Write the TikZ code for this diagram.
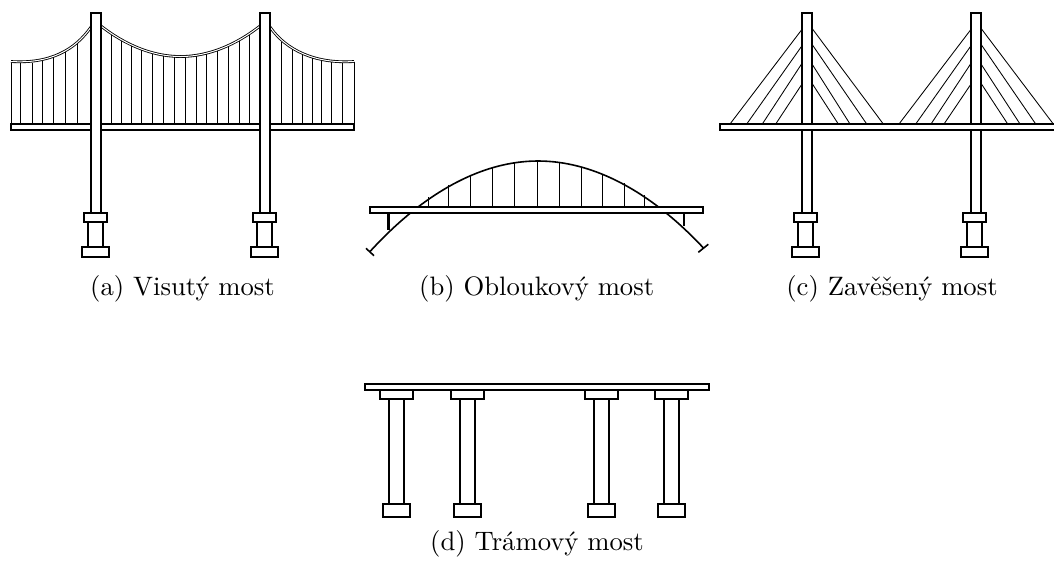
\documentclass[tikz,border=0pt]{standalone}
\usepackage{amsmath}
\usetikzlibrary{arrows.meta, positioning}
\tikzset{
  outline/.style={draw=black, fill=white, line width=0.55pt},
  towerline/.style={draw=black, fill=white, line width=0.4pt},
  hanger/.style={line width=0.32pt},
  stay/.style={line width=0.32pt},
  cable/.style={double=white, double distance=0.38pt, line width=0.32pt},
  caption/.style={anchor=base, font=\normalsize}
}
% pier under a tower: cap, shaft, foot (centre of the shaft)
\newcommand{\pierblock}[1]{
  \draw[outline] (#1-11.5,213) rectangle (#1+11.5,222);
  \draw[outline] (#1-7.5,222) rectangle (#1+7.5,247);
  \draw[outline] (#1-13.5,247) rectangle (#1+13.5,257);
}
% column of the beam bridge
\newcommand{\beamcolumn}[1]{
  \draw[outline] (#1-16.5,390) rectangle (#1+16.5,399);
  \draw[outline] (#1-7.5,399) rectangle (#1+7.5,504);
  \draw[outline] (#1-13.5,504) rectangle (#1+13.5,517);
}
\begin{document}
\begin{tikzpicture}[x=0.375pt,y=-0.375pt]
  \useasboundingbox (0,0) rectangle (1054,560);

  % (a) suspension bridge
  \foreach \hx/\hy in {11/61.5,20.7/62,32.3/62.5,42.7/60.7,53.7/57.3,65/51.7,77/44,
      281.3/42,292.3/49,302.3/53.3,312/57.3,321.7/60,331.7/62,342.3/62.5,354/61.5}
    \draw[hanger] (\hx,\hy) -- (\hx,124);
  \foreach \hx in {111.7,121.7,131.7,141.3,152.7,163.3,174,185.3,196.7,206.3,217.7,228.7,239,249} {
    \pgfmathsetmacro{\hy}{56.5-30.5*((\hx-180.5)/79.5)^2}
    \draw[hanger] (\hx,\hy) -- (\hx,124);
  }
  \draw[cable] (11,61.5) .. controls (50,64) and (75,50) .. (91,27);
  \draw[cable] (101,26) parabola bend (180.5,56.5) (260,26);
  \draw[cable] (270,27) .. controls (286,50) and (315,64) .. (354,61.5);
  \draw[outline] (11,124) rectangle (354,130);
  \draw[towerline] (91,13) rectangle (101,213);
  \draw[towerline] (260,13) rectangle (270,213);
  \pierblock{95.5}
  \pierblock{264.5}
  \node[caption] (capa) at (182.5,295) {(a) Visutý most};

  % (b) arch bridge
  \foreach \hx in {428.3,448.7,470.7,492.7,514.3,537,559.3,581.3,602.7,624,644.3} {
    \pgfmathsetmacro{\hy}{161+0.00301*(\hx-538)^2}
    \draw[hanger] (\hx,\hy) -- (\hx,207);
  }
  \draw[line width=0.6pt] (370,251.5) parabola bend (538,161) (703.5,248);
  \draw[line width=0.6pt] (366,248.3) -- (374,255.7);
  \draw[line width=0.6pt] (698.3,252.3) -- (708.3,244.3);
  \draw[line width=1pt] (388.3,213) -- (388.3,230);
  \draw[line width=1pt] (684,213) -- (684,226);
  \draw[outline] (370,207) rectangle (703,213);
  \node[caption] (capb) at (536.7,295) {(b) Obloukový most};

  % (c) cable-stayed bridge
  \foreach \ty/\dx in {29.3/730,45.7/746.7,63.3/762.3,84/775.7}
    \draw[stay] (802,\ty) -- (\dx,124);
  \foreach \ty/\dx in {28.3/883.3,44.3/866.7,64/850,83.3/838.3}
    \draw[stay] (812,\ty) -- (\dx,124);
  \foreach \ty/\dx in {29.3/899,45.7/915.7,63.3/931,84/944}
    \draw[stay] (971,\ty) -- (\dx,124);
  \foreach \ty/\dx in {28.3/1053.3,44.3/1035.7,64/1020,83.3/1007.7}
    \draw[stay] (981,\ty) -- (\dx,124);
  \draw[towerline] (802,13) rectangle (812,213);
  \draw[towerline] (971,13) rectangle (981,213);
  \draw[outline] (720,124) rectangle (1058,130);
  \pierblock{805.5}
  \pierblock{974.5}
  \node[caption] (capc) at (892,295) {(c) Zavěšený most};

  % (d) beam bridge
  \draw[outline] (365,384) rectangle (709,390);
  \beamcolumn{396.5}
  \beamcolumn{467.5}
  \beamcolumn{601.5}
  \beamcolumn{671.5}
  \node[caption] (capd) at (537,550) {(d) Trámový most};
\end{tikzpicture}
\end{document}
